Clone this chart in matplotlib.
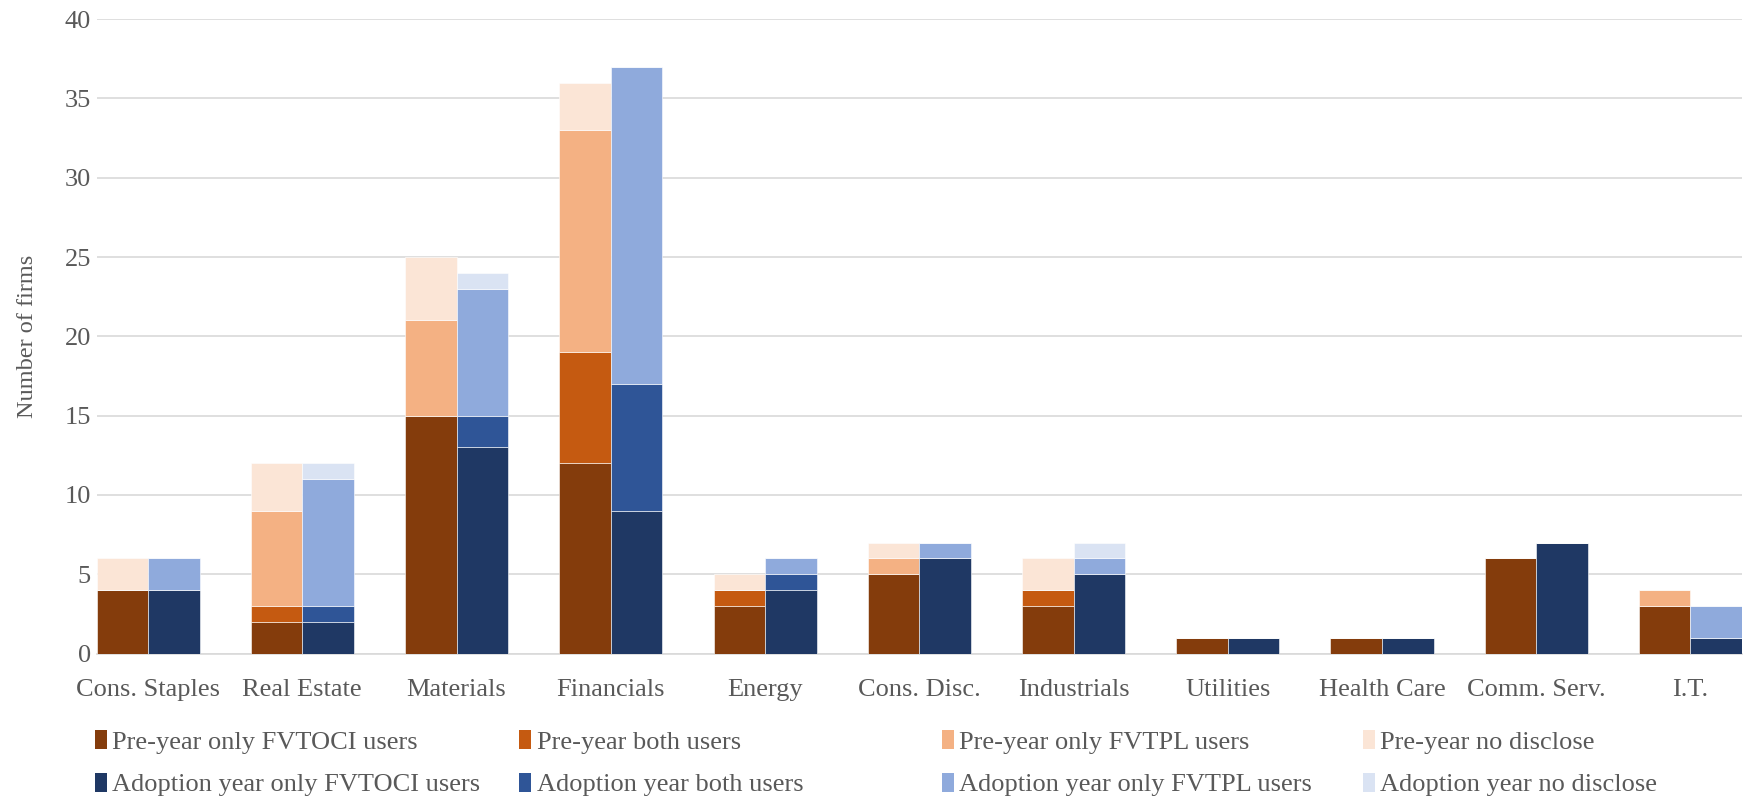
import numpy as np
import matplotlib
matplotlib.use("Agg")
import matplotlib.pyplot as plt
from matplotlib.patches import Patch

plt.rcParams['font.family'] = 'serif'
plt.rcParams['font.serif'] = ['Liberation Serif', 'DejaVu Serif']

# sectors
sectors = ['Cons. Staples', 'Real Estate', 'Materials', 'Financials', 'Energy',
           'Cons. Disc.', 'Industrials', 'Utilities', 'Health Care', 'Comm. Serv.', 'I.T.']

# pre-year counts
pre_fvtoci = [4, 2, 15, 12, 3, 5, 3, 1, 1, 6, 3]
pre_both = [0, 1, 0, 7, 1, 0, 1, 0, 0, 0, 0]
pre_fvtpl = [0, 6, 6, 14, 0, 1, 0, 0, 0, 0, 1]
pre_nodis = [2, 3, 4, 3, 1, 1, 2, 0, 0, 0, 0]

# adoption year counts
ado_fvtoci = [4, 2, 13, 9, 4, 6, 5, 1, 1, 7, 1]
ado_both = [0, 1, 2, 8, 1, 0, 0, 0, 0, 0, 0]
ado_fvtpl = [2, 8, 8, 20, 1, 1, 1, 0, 0, 0, 2]
ado_nodis = [0, 1, 1, 0, 0, 0, 1, 0, 0, 0, 0]

pre_labels = ['Pre-year only FVTOCI users', 'Pre-year both users',
              'Pre-year only FVTPL users', 'Pre-year no disclose']
ado_labels = ['Adoption year only FVTOCI users', 'Adoption year both users',
              'Adoption year only FVTPL users', 'Adoption year no disclose']
pre_colors = ['#843C0C', '#C55A11', '#F4B183', '#FBE5D6']
ado_colors = ['#1F3864', '#2F5597', '#8FAADC', '#DAE3F3']

txt = '#595959'
w = 0.334
x = np.arange(len(sectors))

fig = plt.figure(figsize=(17.46, 7.98), dpi=100)
ax = fig.add_axes([0.0553, 0.181, 0.9424, 0.795])

def stack(ax, xpos, series, colors):
    bottom = np.zeros(len(xpos))
    for vals, c in zip(series, colors):
        vals = np.array(vals, dtype=float)
        ax.bar(xpos, vals, w, bottom=bottom, color=c, edgecolor='#ffffff',
               linewidth=0.4, align='center', zorder=3)
        bottom += vals

stack(ax, x - w / 2, [pre_fvtoci, pre_both, pre_fvtpl, pre_nodis], pre_colors)
stack(ax, x + w / 2, [ado_fvtoci, ado_both, ado_fvtpl, ado_nodis], ado_colors)

ax.set_xlim(-w, len(sectors) - 1 + w)
ax.set_ylim(0, 40)
ax.set_yticks(range(0, 41, 5))
ax.set_xticks(x)
ax.set_xticklabels(sectors)
ax.grid(axis='y', color='#d9d9d9', linewidth=1.2, zorder=0)
for s in ['top', 'right', 'left']:
    ax.spines[s].set_visible(False)
ax.spines['bottom'].set_color('#d9d9d9')
ax.spines['bottom'].set_linewidth(1.2)
ax.tick_params(axis='both', length=0, colors=txt, labelsize=19)
ax.tick_params(axis='x', pad=18)
ax.tick_params(axis='y', pad=4)
ax.set_ylabel('Number of firms', fontsize=17.5, color=txt, labelpad=19)

# legend: four columns laid out at fixed positions
col_x = [0.0545, 0.2975, 0.5395, 0.7805]
for i in range(4):
    handles = [Patch(facecolor=pre_colors[i], label=pre_labels[i]),
               Patch(facecolor=ado_colors[i], label=ado_labels[i])]
    fig.legend(handles=handles, loc='upper left', bbox_to_anchor=(col_x[i], 0.085),
               frameon=False, fontsize=19, labelcolor=txt, handlelength=0.45,
               handleheight=0.75, handletextpad=0.2, labelspacing=0.7,
               borderaxespad=0, borderpad=0)

fig.savefig('out.png', dpi=100)
